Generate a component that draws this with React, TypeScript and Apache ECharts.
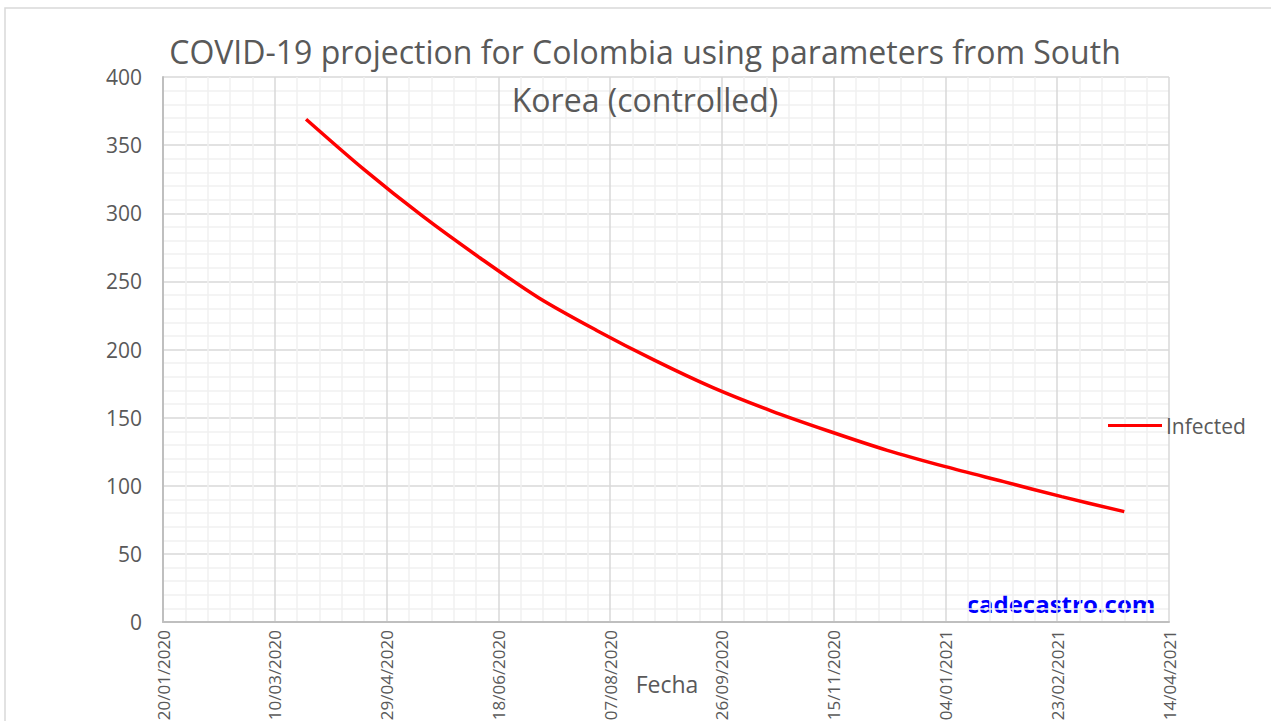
import React, { useEffect, useRef } from "react";
import * as echarts from "echarts";

const titleText = "COVID-19 projection for Colombia using parameters from South\nKorea (controlled)";
const xAxisName = "Fecha";
const seriesName = "Infected";
const watermark = "cadecastro.com";

const startDate = "2020-01-20";
const tickStepDays = 50;
const axisSpanDays = 450;

const dates = [
  "2020-03-24", "2020-04-19", "2020-05-15", "2020-06-10", "2020-07-06",
  "2020-08-01", "2020-08-27", "2020-09-22", "2020-10-18", "2020-11-13",
  "2020-12-09", "2021-01-04", "2021-01-30", "2021-02-25", "2021-03-25",
];
const infected = [
  369, 332, 298, 267, 238,
  214, 192, 172, 155, 140,
  126, 114, 103, 92, 81,
];

const DAY = 86400000;
const t0 = Date.parse(startDate + "T00:00:00Z");
const toOffset = (d: string) => Math.round((Date.parse(d + "T00:00:00Z") - t0) / DAY);
const fmt = (v: number) => {
  const d = new Date(t0 + v * DAY);
  const dd = String(d.getUTCDate()).padStart(2, "0");
  const mm = String(d.getUTCMonth() + 1).padStart(2, "0");
  return `${dd}/${mm}/${d.getUTCFullYear()}`;
};

const FONT = "'Open Sans', 'Noto Sans', sans-serif";
const GREY = "#595959";

export default function App() {
  const ref = useRef<HTMLDivElement>(null);
  useEffect(() => {
    if (!ref.current) return;
    const chart = echarts.init(ref.current, null, { renderer: "svg" });
    chart.setOption({
      animation: false,
      backgroundColor: "#ffffff",
      title: {
        text: titleText,
        left: 640,
        top: 22,
        textAlign: "center",
        textStyle: { fontFamily: FONT, fontSize: 32, fontWeight: "normal", color: GREY, lineHeight: 48 },
      },
      legend: {
        left: 1108,
        top: 415,
        padding: 0,
        itemWidth: 54,
        itemHeight: 3,
        itemGap: 0,
        icon: "rect",
        data: [seriesName],
        textStyle: { fontFamily: FONT, fontSize: 21, color: GREY, padding: [0, 0, 0, -1] },
      },
      grid: { left: 163, top: 77, right: 102, bottom: 99, containLabel: false, outerBoundsMode: "none" },
      xAxis: {
        type: "value",
        min: 0,
        max: axisSpanDays,
        interval: tickStepDays,
        axisLine: { show: true, lineStyle: { color: "#bfbfbf", width: 2 } },
        axisTick: { show: false },
        axisLabel: {
          rotate: 90,
          margin: 8,
          fontFamily: FONT,
          fontSize: 17,
          color: GREY,
          formatter: (v: number) => fmt(v),
        },
        splitLine: { show: true, lineStyle: { color: "#d9d9d9", width: 1.5 } },
        minorTick: { show: false, splitNumber: 5 },
        minorSplitLine: { show: true, lineStyle: { color: "#f0f0f0", width: 1.5 } },
      },
      yAxis: {
        type: "value",
        min: 0,
        max: 400,
        interval: 50,
        axisLine: { show: true, lineStyle: { color: "#bfbfbf", width: 2 } },
        axisTick: { show: false },
        axisLabel: { margin: 21, fontFamily: FONT, fontSize: 21, color: GREY },
        splitLine: { show: true, lineStyle: { color: "#d9d9d9", width: 1.5 } },
        minorTick: { show: false, splitNumber: 5 },
        minorSplitLine: { show: true, lineStyle: { color: "#f0f0f0", width: 1.5 } },
      },
      series: [
        {
          name: seriesName,
          type: "line",
          smooth: 0.3,
          showSymbol: false,
          symbol: "none",
          lineStyle: { color: "#ff0000", width: 3.5 },
          itemStyle: { color: "#ff0000" },
          data: dates.map((d, i) => [toOffset(d), infected[i]]),
        },
      ],
      graphic: [
        {
          type: "rect",
          shape: { x: 5, y: 8, width: 1280, height: 730 },
          style: { fill: "none", stroke: "#d9d9d9", lineWidth: 1.5 },
          silent: true,
        },
        {
          type: "text",
          x: 667,
          y: 684,
          style: {
            text: xAxisName,
            fontFamily: FONT,
            fontSize: 23,
            fill: GREY,
            align: "center",
            verticalAlign: "middle",
          },
        },
        {
          type: "text",
          x: 1061,
          y: 603,
          style: {
            text: watermark,
            fontFamily: FONT,
            fontSize: 24,
            fontWeight: "bold",
            fill: "#0000ff",
            align: "center",
            verticalAlign: "middle",
          },
        },
      ],
    });
    return () => chart.dispose();
  }, []);
  return <div ref={ref} style={{ position: "fixed", left: 0, top: 0, width: 1271, height: 721 }} />;
}
